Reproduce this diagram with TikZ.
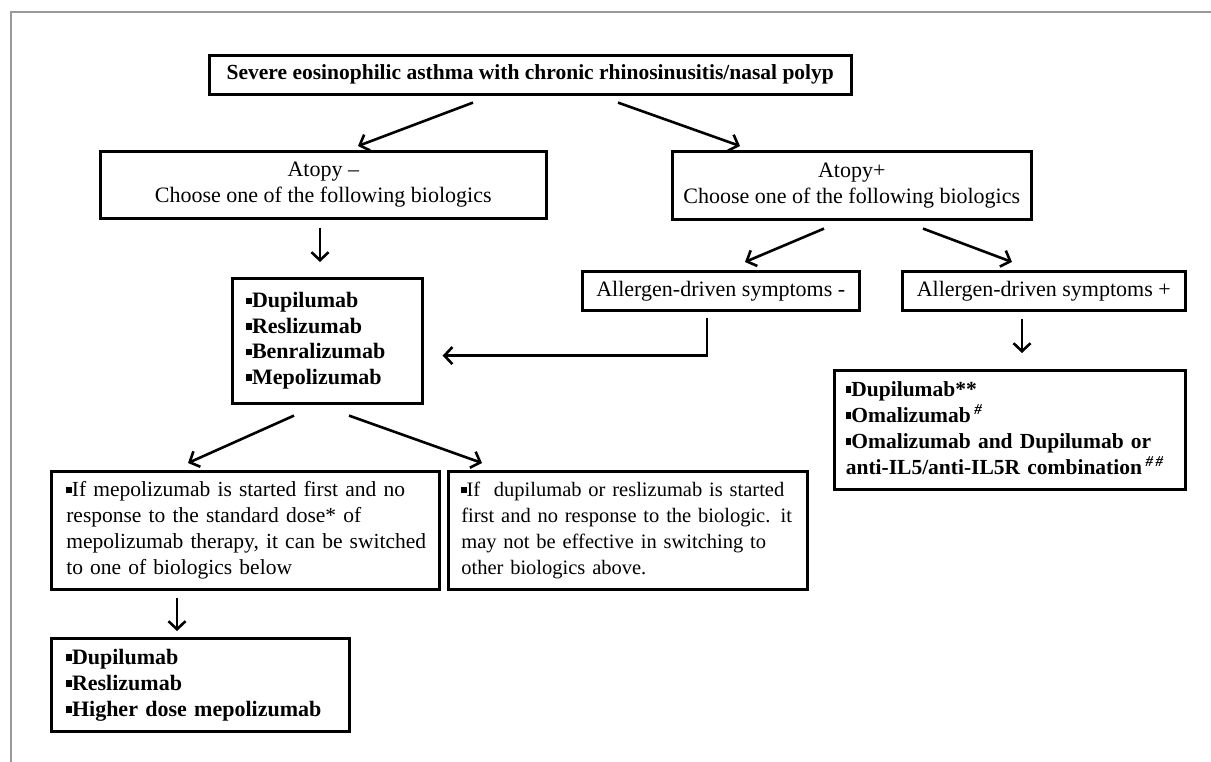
\documentclass[tikz,border=0pt]{standalone}
\usepackage{fontspec}
\setmainfont{Liberation Serif}
\usetikzlibrary{arrows.meta,calc}
\newcommand{\blt}{\rule[0.32ex]{0.26em}{0.3em}}
\newcommand{\lines}[1]{\begin{tabular}{@{}l@{}}#1\end{tabular}}
\tikzset{
  box/.style={draw=black, line width=2.6pt, inner sep=0pt, anchor=north west,
    font=\fontsize{22}{26}\selectfont},
  arr/.style={line width=2.6pt, -{Straight Barb[length=8pt,width=17pt]}},
  frame/.style={draw=black!40, line width=2pt}
}
\begin{document}
\begin{tikzpicture}[x=1pt,y=-1pt]
\useasboundingbox (0,0) rectangle (1211,762);
\draw[frame] (1211,12) -- (11,12) -- (11,762);

\node[box, minimum width=642pt, minimum height=39pt, align=center, font=\fontsize{21.5}{26}\selectfont\bfseries] (top) at (208,54)
  {Severe eosinophilic asthma with chronic rhinosinusitis/nasal polyp};
\node[box, minimum width=446pt, minimum height=67pt, align=center] (aneg) at (99,150)
  {Atopy –\\Choose one of the following biologics};
\node[box, minimum width=359pt, minimum height=68pt, align=center] (apos) at (671,150)
  {Atopy+\\Choose one of the following biologics};
\node[box, minimum width=190pt, minimum height=125pt, text width=162pt, align=left, font=\fontsize{22}{25.5}\selectfont\bfseries] (bio) at (231,277)
  {\lines{\blt Dupilumab\\\blt Reslizumab\\\blt Benralizumab\\\blt Mepolizumab}};
\node[box, minimum width=277pt, minimum height=39pt, align=center] (alneg) at (581,270)
  {Allergen-driven symptoms -};
\node[box, minimum width=283pt, minimum height=39pt, align=center] (alpos) at (901,270)
  {Allergen-driven symptoms +};
\node[box, minimum width=351pt, minimum height=119pt, text width=328pt, align=left, font=\fontsize{21.5}{26}\selectfont\bfseries] (rlist) at (833,369)
  {\lines{\blt Dupilumab**\\\blt Omalizumab\,\textsuperscript{\textit{\#}}\\\blt Omalizumab and Dupilumab or\\anti-IL5/anti-IL5R combination\,\textsuperscript{\textit{\#\,\#}}}};
\node[box, minimum width=388pt, minimum height=118pt, text width=358pt, align=left, font=\fontsize{21.5}{26}\selectfont] (ifl) at (50,470)
  {\lines{\blt If mepolizumab is started first and no\\response to the standard dose* of\\mepolizumab therapy, it can be switched\\to one of biologics below}};
\node[box, minimum width=359pt, minimum height=118pt, text width=333pt, align=left, font=\fontsize{20.5}{26}\selectfont] (ifr) at (447,470)
  {\lines{\blt If\ \ dupilumab or reslizumab is started\\first and no response to the biologic. it\\may not be effective in switching to\\other biologics above.}};
\node[box, minimum width=298pt, minimum height=93pt, text width=268pt, align=left, font=\fontsize{22}{26}\selectfont\bfseries] (bot) at (50,637)
  {\lines{\blt Dupilumab\\\blt Reslizumab\\\blt Higher dose mepolizumab}};

% connector end points
\coordinate (t1) at ($(top.south west)+(265,7)$);
\coordinate (t2) at ($(top.south west)+(410,7)$);
\coordinate (an1) at ($(aneg.north west)+(259,-4)$);
\coordinate (ap1) at ($(apos.north west)+(69,-4)$);
\coordinate (an2) at ($(aneg.south west)+(221,8)$);
\coordinate (b1) at ($(bio.north west)+(89,-15)$);
\coordinate (ap2) at ($(apos.south west)+(153,8)$);
\coordinate (ap3) at ($(apos.south west)+(252,8)$);
\coordinate (al1) at ($(alneg.north west)+(164,-8)$);
\coordinate (al2) at ($(alpos.north west)+(111,-8)$);
\coordinate (ln1) at ($(alneg.south west)+(126,6)$);
\coordinate (ln2) at ($(alneg.south west)+(126,44)$);
\coordinate (bi1) at ($(bio.east)+(19,0)$);
\coordinate (lp1) at ($(alpos.south west)+(121,7)$);
\coordinate (rl1) at ($(rlist.north west)+(189,-16)$);
\coordinate (b2) at ($(bio.south west)+(63,11)$);
\coordinate (b3) at ($(bio.south west)+(118,11)$);
\coordinate (fl1) at ($(ifl.north west)+(138,-7)$);
\coordinate (fr1) at ($(ifr.north west)+(35,-7)$);
\coordinate (fl2) at ($(ifl.south west)+(127,7)$);
\coordinate (bt1) at ($(bot.north west)+(127,-6)$);

\draw[arr] (t1) -- (an1);
\draw[arr] (t2) -- (ap1);
\draw[arr] (an2) -- (b1);
\draw[arr] (ap2) -- (al1);
\draw[arr] (ap3) -- (al2);
\draw[arr] (ln1) -- (ln2) -- (ln2 -| bi1);
\draw[arr] (lp1) -- (rl1);
\draw[arr] (b2) -- (fl1);
\draw[arr] (b3) -- (fr1);
\draw[arr] (fl2) -- (bt1);
\end{tikzpicture}
\end{document}
